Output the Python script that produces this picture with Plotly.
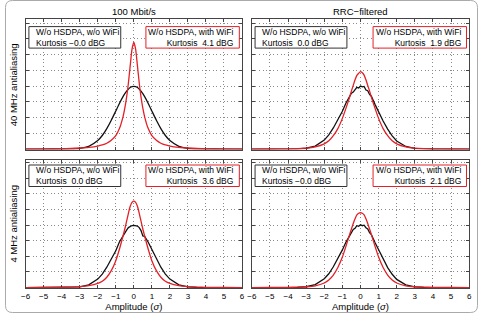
import plotly.graph_objects as go

W, H = 481, 313

# ---------------- data ----------------
X = [-6, -5, -4, -3.5, -3, -2.5, -2, -1.75, -1.5, -1.25, -1, -0.8, -0.6, -0.5, -0.4, -0.3, -0.2, -0.1, 0,
     0.1, 0.2, 0.3, 0.4, 0.5, 0.6, 0.8, 1, 1.25, 1.5, 1.75, 2, 2.5, 3, 3.5, 4, 5, 6]

black_tl = [0, 0, 0.0002, 0.001, 0.0045, 0.0175, 0.054, 0.086, 0.130, 0.183, 0.242, 0.290, 0.333, 0.352, 0.368,
            0.381, 0.391, 0.397, 0.399, 0.397, 0.391, 0.381, 0.368, 0.352, 0.333, 0.290, 0.242, 0.183, 0.130,
            0.086, 0.054, 0.0175, 0.0045, 0.001, 0.0002, 0, 0]
red_tl = [0, 0.0005, 0.002, 0.0035, 0.0065, 0.011, 0.019, 0.026, 0.037, 0.056, 0.085, 0.13, 0.205, 0.26, 0.33,
          0.42, 0.53, 0.635, 0.68, 0.635, 0.53, 0.42, 0.33, 0.26, 0.205, 0.13, 0.085, 0.056, 0.037, 0.026, 0.019,
          0.011, 0.0065, 0.0035, 0.002, 0.0005, 0]

black_tr = [0, 0, 0.0003, 0.0012, 0.005, 0.019, 0.057, 0.090, 0.134, 0.186, 0.240, 0.293, 0.331, 0.355, 0.362,
            0.378, 0.392, 0.388, 0.401, 0.395, 0.398, 0.375, 0.371, 0.347, 0.336, 0.284, 0.236, 0.178, 0.127,
            0.084, 0.051, 0.016, 0.004, 0.0008, 0.0002, 0, 0]
red_tr = [0, 0.0003, 0.0015, 0.003, 0.006, 0.014, 0.033, 0.052, 0.085, 0.13, 0.195, 0.26, 0.33, 0.37, 0.405,
          0.44, 0.468, 0.482, 0.492, 0.485, 0.47, 0.44, 0.405, 0.37, 0.33, 0.26, 0.195, 0.13, 0.085, 0.052,
          0.033, 0.014, 0.006, 0.003, 0.0015, 0.0003, 0]

black_bl = [0, 0, 0.0002, 0.001, 0.0045, 0.0175, 0.054, 0.086, 0.130, 0.183, 0.235, 0.292, 0.333, 0.352, 0.368,
            0.384, 0.393, 0.397, 0.398, 0.397, 0.394, 0.384, 0.365, 0.330, 0.328, 0.290, 0.242, 0.183, 0.130,
            0.086, 0.054, 0.0175, 0.0045, 0.001, 0.0002, 0, 0]
red_bl = [0, 0.0003, 0.0015, 0.003, 0.006, 0.012, 0.026, 0.040, 0.066, 0.108, 0.172, 0.245, 0.33, 0.375, 0.425,
          0.475, 0.52, 0.545, 0.553, 0.545, 0.52, 0.475, 0.425, 0.375, 0.33, 0.245, 0.172, 0.108, 0.066, 0.040,
          0.026, 0.012, 0.006, 0.003, 0.0015, 0.0003, 0]

black_br = [0, 0, 0.0003, 0.0012, 0.005, 0.019, 0.056, 0.088, 0.133, 0.185, 0.241, 0.291, 0.334, 0.351, 0.372,
            0.380, 0.396, 0.392, 0.402, 0.396, 0.399, 0.383, 0.375, 0.352, 0.339, 0.288, 0.240, 0.180, 0.128,
            0.085, 0.052, 0.017, 0.004, 0.0009, 0.0002, 0, 0]
red_br = [0, 0.0003, 0.0012, 0.0025, 0.005, 0.011, 0.029, 0.048, 0.080, 0.128, 0.195, 0.265, 0.34, 0.375, 0.41,
          0.44, 0.465, 0.476, 0.479, 0.476, 0.465, 0.44, 0.41, 0.375, 0.34, 0.265, 0.195, 0.128, 0.080, 0.048,
          0.029, 0.011, 0.005, 0.0025, 0.0012, 0.0003, 0]

col_titles = ["100 Mbit/s", "RRC\u2212filtered"]
row_titles = ["40 MHz antialiasing", "4 MHz antialiasing"]
label_black = "W/o HSDPA, w/o WiFi"
label_red = "W/o HSDPA, with WiFi"
kurt_black = ["\u22120.0", "0.0", "0.0", "\u22120.0"]
kurt_red = ["4.1", "1.9", "3.6", "2.1"]
x_ticks = [-6, -5, -4, -3, -2, -1, 0, 1, 2, 3, 4, 5, 6]
x_title = "Amplitude (<i>\u03c3</i>)"

# ---------------- layout helpers ----------------
def px(x):
    return x / W

def py(y):
    return 1 - y / H

FONT = "Liberation Sans, Arial, sans-serif"
RED = "rgb(228,32,38)"
BLK = "#111111"
GRID = dict(showgrid=True, gridcolor="#8a8a8a", griddash="1px,2.6px", gridwidth=1)

# panel pixel boxes: (x0, x1, ytop, ybottom)
panels = [
    (21, 241, 19.3, 149.5),
    (251, 472, 19.3, 149.5),
    (21, 241, 159.5, 288),
    (251, 472, 159.5, 288),
]
curves = [(black_tl, red_tl), (black_tr, red_tr), (black_bl, red_bl), (black_br, red_br)]
yranges = [[-0.003, 0.825], [-0.003, 0.825], [-0.003, 0.82], [-0.003, 0.82]]

fig = go.Figure()
layout = dict(
    width=W, height=H,
    margin=dict(l=0, r=0, t=0, b=0),
    paper_bgcolor="white", plot_bgcolor="white",
    showlegend=False,
    font=dict(family=FONT, size=9, color="black"),
)
annotations = []
shapes = []

for i, (p, (blk, red)) in enumerate(zip(panels, curves)):
    n = "" if i == 0 else str(i + 1)
    x0, x1, yt, yb = p
    bottom = i >= 2
    layout["xaxis" + n] = dict(
        domain=[px(x0), px(x1)], range=[-6, 6], anchor="y" + n,
        tickvals=x_ticks, ticktext=[("\u2212" + str(-t)) if t < 0 else str(t) for t in x_ticks],
        showticklabels=bottom, ticks="inside", ticklen=3, tickcolor="#444",
        showline=True, linecolor="#444", linewidth=1, mirror="ticks",
        zeroline=False, tickfont=dict(size=8, family=FONT), layer="below traces", **GRID,
    )
    if bottom:
        layout["xaxis" + n]["title"] = dict(text=x_title, font=dict(size=9.5, family=FONT), standoff=2)
    layout["yaxis" + n] = dict(
        domain=[py(yb), py(yt)], range=yranges[i], anchor="x" + n,
        dtick=0.1, tick0=0, showticklabels=False, ticks="inside", ticklen=3, tickcolor="#444",
        showline=True, linecolor="#444", linewidth=1, mirror="ticks",
        zeroline=False, layer="below traces", **GRID,
    )
    fig.add_trace(go.Scatter(x=X, y=blk, mode="lines", xaxis="x" + n, yaxis="y" + n,
                             line=dict(color=BLK, width=1.3, shape="spline" if i in (0,) else "linear",
                                       smoothing=0.6)))
    fig.add_trace(go.Scatter(x=X, y=red, mode="lines", xaxis="x" + n, yaxis="y" + n,
                             line=dict(color=RED, width=1.3, shape="spline", smoothing=0.6)))

    # legend-like boxes
    off = 7.3 if not bottom else 5.5
    bt, bb = yt + off, yt + off + 21.5
    bx0, bx1 = x0 + 3.3, x0 + 96.7
    rx0, rx1 = x1 - 97.7, x1 - 2.7
    shapes.append(dict(type="rect", xref="paper", yref="paper", x0=px(bx0), x1=px(bx1), y0=py(bb), y1=py(bt),
                       line=dict(color="#333", width=1), fillcolor="white"))
    shapes.append(dict(type="rect", xref="paper", yref="paper", x0=px(rx0), x1=px(rx1), y0=py(bb), y1=py(bt),
                       line=dict(color=RED, width=1), fillcolor="white"))
    annotations.append(dict(xref="paper", yref="paper", x=px(bx0 + 5), y=py((bt + bb) / 2),
                            xanchor="left", yanchor="middle", align="left", showarrow=False,
                            text=label_black + "<br>Kurtosis " + ("" if kurt_black[i].startswith("\u2212") else " ") + kurt_black[i] + " dBG",
                            font=dict(size=8.5, family=FONT, color="black")))
    annotations.append(dict(xref="paper", yref="paper", x=px(rx1 - 4), y=py((bt + bb) / 2),
                            xanchor="right", yanchor="middle", align="right", showarrow=False,
                            text=label_red + "<br>Kurtosis  " + kurt_red[i] + " dBG",
                            font=dict(size=8.5, family=FONT, color="black")))

# column titles
for j, t in enumerate(col_titles):
    x0, x1 = panels[j][0], panels[j][1]
    annotations.append(dict(xref="paper", yref="paper", x=px((x0 + x1) / 2), y=py(11),
                            xanchor="center", yanchor="middle", showarrow=False, text=t,
                            font=dict(size=9.5, family=FONT)))
# row titles
for r, t in enumerate(row_titles):
    yt, yb = panels[2 * r][2], panels[2 * r][3]
    annotations.append(dict(xref="paper", yref="paper", x=px(9), y=py((yt + yb) / 2),
                            xanchor="center", yanchor="middle", showarrow=False, text=t, textangle=-90,
                            font=dict(size=9.5, family=FONT)))

# outer rounded frame
r = 7
x0, y0, x1, y1 = 0.5, 0.5, W - 0.5, H - 0.5
path = (f"M {px(x0 + r)},{py(y0)} L {px(x1 - r)},{py(y0)} Q {px(x1)},{py(y0)} {px(x1)},{py(y0 + r)} "
        f"L {px(x1)},{py(y1 - r)} Q {px(x1)},{py(y1)} {px(x1 - r)},{py(y1)} "
        f"L {px(x0 + r)},{py(y1)} Q {px(x0)},{py(y1)} {px(x0)},{py(y1 - r)} "
        f"L {px(x0)},{py(y0 + r)} Q {px(x0)},{py(y0)} {px(x0 + r)},{py(y0)} Z")
shapes.append(dict(type="path", xref="paper", yref="paper", path=path, line=dict(color="#aaaaaa", width=1)))

layout["annotations"] = annotations
layout["shapes"] = shapes
fig.update_layout(**layout)
fig.write_html("out.html")
